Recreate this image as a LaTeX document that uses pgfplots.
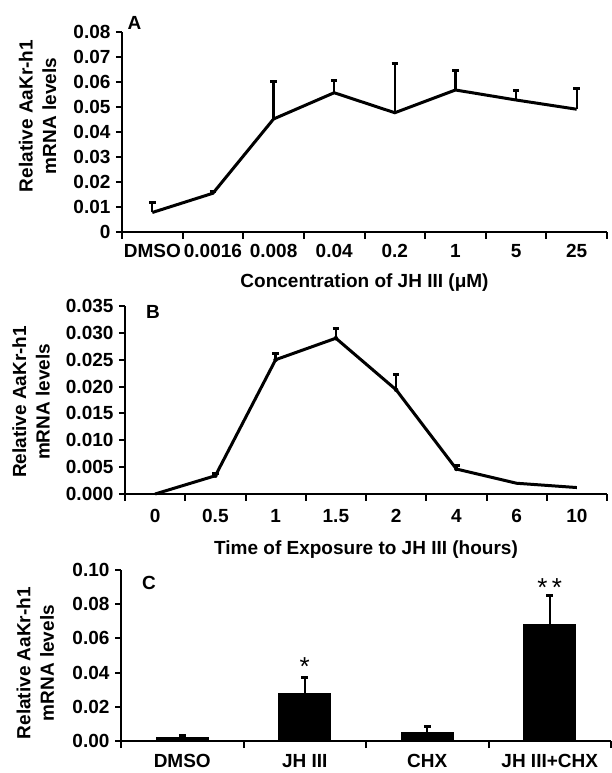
\documentclass[border=0pt]{standalone}
\usepackage{fontspec}
\setmainfont{Liberation Sans}
\usepackage{pgfplots}
\pgfplotsset{compat=1.18}

\pgfplotsset{
  panel/.style={
    scale only axis, clip=false,
    axis x line*=bottom, axis y line*=left,
    axis line style={line width=2.5pt, -},
    tick align=outside,
    major tick length=6pt, minor tick length=7pt,
    tick style={black, line width=2pt},
    major x tick style={draw=none},
    scaled y ticks=false,
    yticklabel style={xshift=-2pt},
    ylabel={Relative AaKr-h1\\mRNA levels},
    ylabel style={anchor=center, align=center},
    xlabel style={anchor=center},
  },
  ebars/.style={
    error bars/.cd, y dir=plus, y explicit,
    error bar style={line width=2.3pt},
    error mark options={rotate=90, line width=3pt, mark size=3.3pt},
  },
}

\pgfplotstableread{
x y e
0 0.0078 0.0040
1 0.0155 0.0007
2 0.0452 0.0150
3 0.0557 0.0048
4 0.0477 0.0195
5 0.0568 0.0079
6 0.0528 0.0039
7 0.0491 0.0081
}\dataA

\pgfplotstableread{
x y
0 0.0000
1 0.0034
2 0.0250
3 0.0290
4 0.0194
5 0.00465
6 0.0020
7 0.0012
}\dataB

\pgfplotstableread{
x y e
1 0.0034 0.0005
2 0.0250 0.0012
3 0.0290 0.0018
4 0.0194 0.0028
5 0.00465 0.0007
}\errB

\pgfplotstableread{
x y e
0 0.0022 0.0011
1 0.0275 0.0098
2 0.0049 0.0037
3 0.0684 0.0164
}\dataC

\begin{document}
\begin{tikzpicture}[font=\fontsize{19}{23.5}\selectfont\bfseries]
\useasboundingbox (0,0) rectangle (611pt,773pt);

% A: concentration
\begin{axis}[panel, at={(122pt,541pt)}, anchor=south west,
    width=485pt, height=200pt,
    xmin=-0.5, xmax=7.5, ymin=0, ymax=0.08,
    xtick={0,...,7},
    xticklabels={DMSO,0.0016,0.008,0.04,0.2,1,5,25},
    xticklabel style={yshift=-3pt},
    minor xtick={-0.5,0.5,...,7.5},
    ytick={0,0.01,...,0.08},
    yticklabels={0,0.01,0.02,0.03,0.04,0.05,0.06,0.07,0.08},
    xlabel={Concentration of JH III (μM)},
    xlabel style={at={(axis description cs:0.5,-0.255)}},
    ylabel style={at={(axis description cs:-0.174,0.58)}},
]
\addplot[black, line width=3pt, no marks, ebars] table[x=x, y=y, y error=e]{\dataA};
\node at (axis description cs:0.026,1.045) {A};
\end{axis}

% B: time course
\begin{axis}[panel, at={(125pt,279pt)}, anchor=south west,
    width=482pt, height=188pt,
    xmin=-0.5, xmax=7.5, ymin=0, ymax=0.035,
    xtick={0,...,7},
    xticklabels={0,0.5,1,1.5,2,4,6,10},
    xticklabel style={yshift=-6pt},
    minor xtick={-0.5,0.5,...,7.5},
    ytick={0,0.005,...,0.035},
    yticklabels={0.000,0.005,0.010,0.015,0.020,0.025,0.030,0.035},
    xlabel={Time of Exposure to JH III (hours)},
    xlabel style={at={(axis description cs:0.5,-0.296)}},
    ylabel style={at={(axis description cs:-0.195,0.49)}},
]
\addplot[black, line width=3pt, no marks] table[x=x, y=y]{\dataB};
\addplot[black, only marks, mark=none, ebars] table[x=x, y=y, y error=e]{\errB};
\node at (axis description cs:0.058,0.97) {B};
\end{axis}

% C: bars
\begin{axis}[panel, at={(121pt,32pt)}, anchor=south west,
    width=490pt, height=171pt,
    xmin=-0.5, xmax=3.5, ymin=0, ymax=0.10,
    xtick={0,...,3},
    xticklabels={DMSO,JH III,CHX,JH III+CHX},
    xticklabel style={yshift=-4pt},
    minor xtick={-0.5,0.5,...,3.5},
    ytick={0,0.02,...,0.10},
    yticklabels={0.00,0.02,0.04,0.06,0.08,0.10},
    ylabel style={at={(axis description cs:-0.175,0.455)}},
]
\addplot[ybar, bar width=52pt, fill=black, draw=black, line width=1pt, ebars]
  table[x=x, y=y, y error=e]{\dataC};
\node at (axis description cs:0.057,0.924) {C};
\node[font=\fontsize{26}{26}\selectfont] at (axis cs:1,0.0435) {*};
\node[font=\fontsize{26}{26}\selectfont] at (axis cs:3,0.0895) {*\,*};
\end{axis}
\end{tikzpicture}
\end{document}
